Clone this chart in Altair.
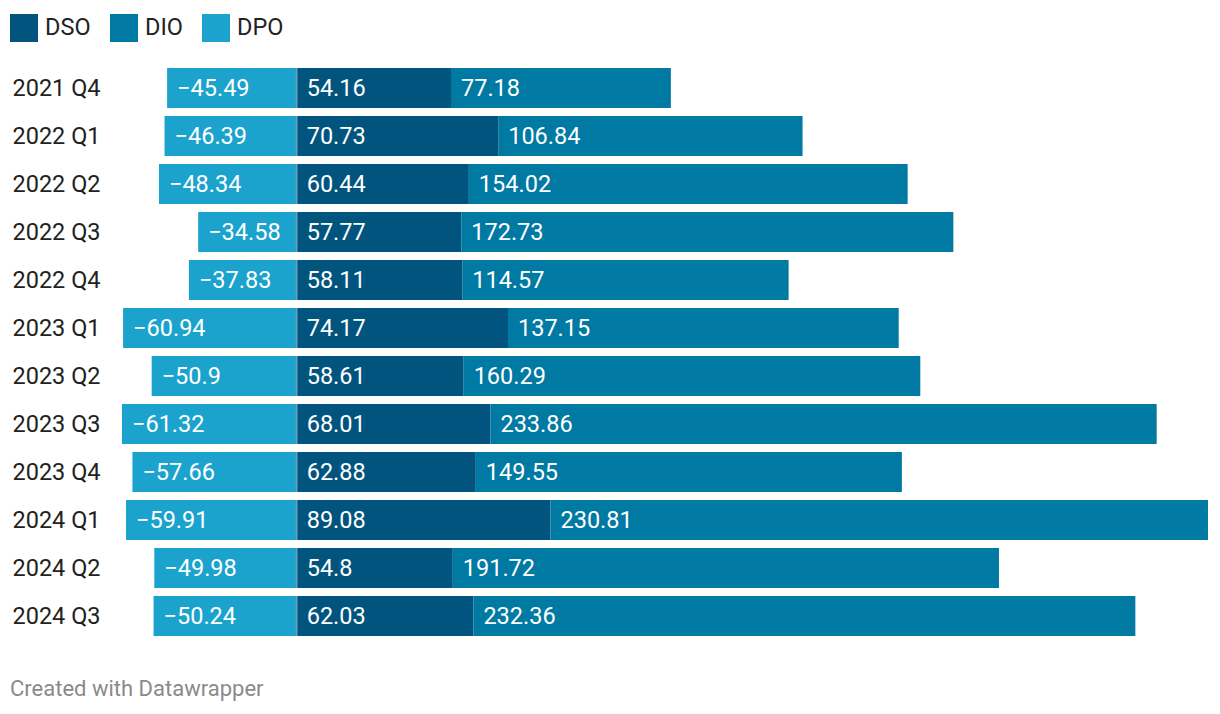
import altair as alt
import pandas as pd

quarters = ["2021 Q4", "2022 Q1", "2022 Q2", "2022 Q3", "2022 Q4", "2023 Q1",
            "2023 Q2", "2023 Q3", "2023 Q4", "2024 Q1", "2024 Q2", "2024 Q3"]
dso = [54.16, 70.73, 60.44, 57.77, 58.11, 74.17, 58.61, 68.01, 62.88, 89.08, 54.8, 62.03]
dio = [77.18, 106.84, 154.02, 172.73, 114.57, 137.15, 160.29, 233.86, 149.55, 230.81, 191.72, 232.36]
dpo = [-45.49, -46.39, -48.34, -34.58, -37.83, -60.94, -50.9, -61.32, -57.66, -59.91, -49.98, -50.24]

series = ["DSO", "DIO", "DPO"]
colors = ["#00547e", "#0079a3", "#1ba3ce"]

rows = []
for i, q in enumerate(quarters):
    for k, (name, vals) in enumerate(zip(series, [dso, dio, dpo])):
        v = vals[i]
        rows.append({"quarter": q, "series": name, "value": v, "ord": k,
                     "label": str(v).replace("-", "\u2212")})
df = pd.DataFrame(rows)

FONT = "Roboto"
FS = 23.5

base = alt.Chart(df).transform_stack(
    stack="value", groupby=["quarter"], as_=["v0", "v1"],
    sort=[alt.SortField("ord", order="ascending")]
).transform_calculate(
    lo="min(datum.v0, datum.v1)"
)

y_enc = alt.Y("quarter:N", sort=quarters,
              scale=alt.Scale(paddingInner=0.1667, paddingOuter=0.0833),
              axis=alt.Axis(title=None, ticks=False, domain=False, labelAlign="left",
                            labelPadding=110, labelFontSize=FS, labelFont=FONT,
                            labelColor="#222222", labelBaseline="middle", labelOffset=1))
x_scale = alt.Scale(domain=[-61.32, 319.89], nice=False, zero=False)

bars = base.mark_bar(strokeWidth=0).encode(
    y=y_enc,
    x=alt.X("v0:Q", scale=x_scale, axis=None),
    x2="v1:Q",
    color=alt.Color("series:N", scale=alt.Scale(domain=series, range=colors),
                    legend=alt.Legend(title=None, orient="none", legendX=-112, legendY=-50,
                                      direction="horizontal", symbolType="square",
                                      symbolSize=784, symbolStrokeWidth=0,
                                      labelFontSize=FS, labelFont=FONT,
                                      labelColor="#222222", labelOffset=7,
                                      columnPadding=19, padding=0)),
)

texts = base.mark_text(align="left", baseline="middle", dx=10, dy=1, fontSize=FS,
                       font=FONT, color="white").encode(
    y=alt.Y("quarter:N", sort=quarters),
    x=alt.X("lo:Q", scale=x_scale),
    text="label:N",
)

zero = alt.Chart(pd.DataFrame({"quarter": quarters, "z": [0] * len(quarters)})).mark_tick(
    color="#6e9fb8", thickness=2, size=40, orient="vertical").encode(
    x=alt.X("z:Q", scale=x_scale),
    y=alt.Y("quarter:N", sort=quarters),
)

footer = alt.Chart(pd.DataFrame({"t": ["Created with Datawrapper"]})).mark_text(
    align="left", baseline="middle", fontSize=22, font=FONT, color="#8a8a8a"
).encode(text="t:N", x=alt.value(-112), y=alt.value(625))

chart = alt.layer(bars, texts, zero, footer).properties(
    width=1086, height=576,
    autosize=alt.AutoSizeParams(type="none"),
    padding={"left": 114, "top": 56, "right": 4, "bottom": 66},
).configure_view(stroke=None)

chart.save("out.html", embed_options={"renderer": "svg", "actions": False})
